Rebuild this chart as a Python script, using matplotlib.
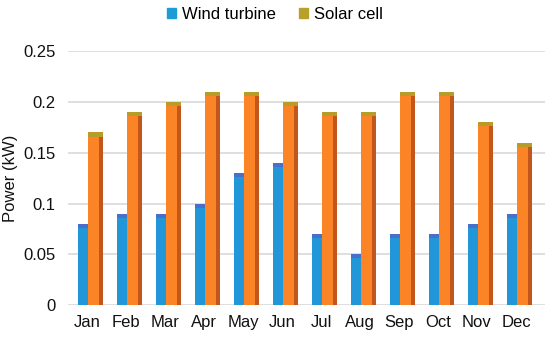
import matplotlib
matplotlib.use('Agg')
import matplotlib.pyplot as plt
from matplotlib.patches import Patch
import numpy as np

months = ['Jan', 'Feb', 'Mar', 'Apr', 'May', 'Jun', 'Jul', 'Aug', 'Sep', 'Oct', 'Nov', 'Dec']
wind = [0.08, 0.09, 0.09, 0.10, 0.13, 0.14, 0.07, 0.05, 0.07, 0.07, 0.08, 0.09]
solar = [0.17, 0.19, 0.20, 0.21, 0.21, 0.20, 0.19, 0.19, 0.21, 0.21, 0.18, 0.16]
yticks = [0, 0.05, 0.1, 0.15, 0.2, 0.25]
ytick_labels = ['0', '0.05', '0.1', '0.15', '0.2', '0.25']

plt.rcParams['font.family'] = ['Liberation Sans', 'DejaVu Sans']

WIND = '#2196d8'
WIND_TOP = '#4a6fc8'
SOLAR = '#fb8526'
SOLAR_SIDE = '#c2561c'
SOLAR_TOP = '#b89c2a'

fig = plt.figure(figsize=(5.5, 3.39), dpi=100)
ax = fig.add_axes([0.1236, 0.100, 0.867, 0.749])

x = np.arange(len(months))
w = 0.27
side = 0.1
cap = 0.004

wx = x - 0.1
sx = x + 0.17
ax.bar(wx, wind, width=w, color=WIND, zorder=3)
ax.bar(sx, solar, width=w, color=SOLAR, zorder=3)
# pseudo-3D side and top faces
ax.bar(sx + w / 2 + side / 2, solar, width=side, color=SOLAR_SIDE, zorder=3)
ax.bar(sx + side / 2, np.full(len(x), cap), bottom=np.array(solar) - cap,
       width=w + side, color=SOLAR_TOP, zorder=4)
ax.bar(wx, np.full(len(x), cap), bottom=np.array(wind) - cap,
       width=w, color=WIND_TOP, zorder=4)

ax.set_xlim(-0.49, 11.74)
ax.set_ylim(0, 0.25)
ax.set_yticks(yticks)
ax.set_yticklabels(ytick_labels)
ax.set_xticks(x)
ax.set_xticklabels(months)
ax.tick_params(length=0, labelsize=12, colors='#111111')
ax.tick_params(axis='y', pad=9)
ax.tick_params(axis='x', pad=7)
ax.grid(axis='y', color='#d9d9d9', linewidth=1.2, zorder=0)
for s in ax.spines.values():
    s.set_visible(False)
ax.set_ylabel('Power (kW)', fontsize=12, color='#111111', labelpad=4)

handles = [Patch(color='#1e9cd6', label='Wind turbine'),
           Patch(color='#b8a02a', label='Solar cell')]
fig.legend(handles=handles, loc='upper center', bbox_to_anchor=(0.5, 1.025), ncol=2,
           frameon=False, fontsize=12, handlelength=0.55, handleheight=0.55,
           handletextpad=0.35, columnspacing=1.4)

fig.savefig('out.png', dpi=100)
